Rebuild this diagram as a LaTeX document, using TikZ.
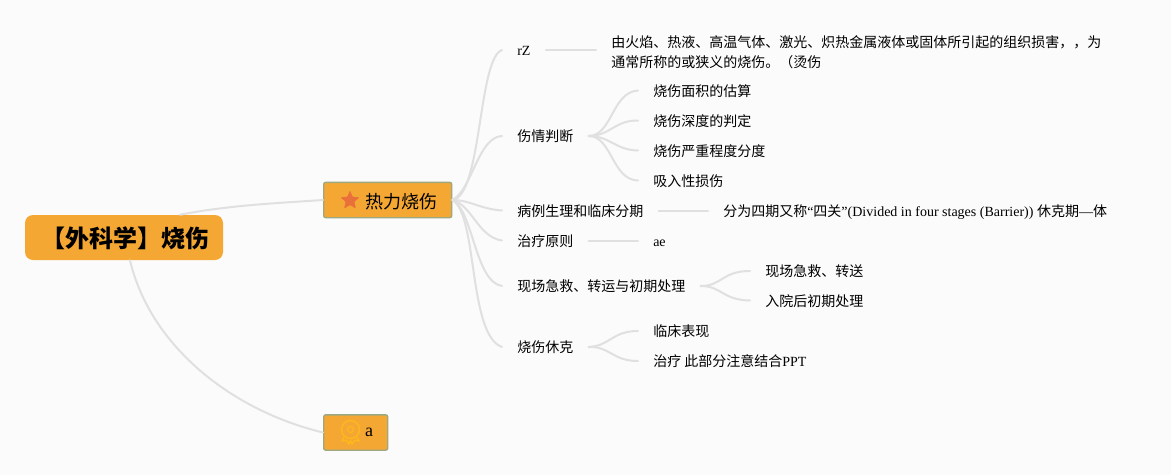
\documentclass[tikz,border=0pt]{standalone}
\usepackage{fontspec}
\setmainfont{Liberation Serif}
\newfontfamily\cjk{Noto Sans CJK SC}
\usetikzlibrary{shapes.geometric}
\definecolor{bgc}{HTML}{FBFBFB}
\definecolor{orangefill}{HTML}{F5A733}
\definecolor{boxedge}{HTML}{9BA880}
\definecolor{linkc}{HTML}{E0E0E0}
\definecolor{starc}{HTML}{E9703A}
\definecolor{medalc}{HTML}{FFB81C}
\newcommand{\zh}[1]{{\cjk #1}}
\tikzset{
  x=0.75pt,y=-0.75pt,
  link/.style={draw=linkc,line width=1.5pt,line cap=round},
  rootbox/.style={fill=orangefill,rounded corners=6pt,minimum width=148.5pt,minimum height=33.75pt,inner sep=0pt,text height=15.5pt,text depth=1pt,font=\cjk\bfseries\fontsize{18pt}{20pt}\selectfont},
  topicbox/.style={fill=orangefill,draw=boxedge,line width=1pt,rounded corners=1.5pt,anchor=west,inner xsep=10.9pt,inner ysep=0pt,minimum height=26.5pt,font=\fontsize{13.5pt}{16pt}\selectfont},
  itembox/.style={anchor=west,inner xsep=11.25pt,inner ysep=0pt,text height=11pt,text depth=2.5pt,font=\fontsize{10.5pt}{14.5pt}\selectfont},
  longbox/.style={anchor=west,inner xsep=11.25pt,inner ysep=0pt,align=left,font=\fontsize{10.5pt}{15pt}\selectfont},
}
\begin{document}
\begin{tikzpicture}
\path[use as bounding box,fill=bgc] (0,0) rectangle (1171,475);

\node[rootbox] (root) at (124,237.5) {\hspace*{2pt}【外科学】烧伤};
\node[topicbox,text height=14pt,text depth=1pt] (t1) at (323,200) {\hspace*{20.25pt}\zh{热力烧伤}};
\node[topicbox] (t2) at (323,432.5) {\hspace*{20.25pt}a};
\node[star,star points=5,star point ratio=2.2,fill=starc,inner sep=0pt,minimum size=15pt,rounded corners=0.6pt] (staricon) at (350,200.5) {};

% medal icon
\node[circle,draw=medalc,line width=1pt,minimum size=13.5pt,inner sep=0pt] (medal) at (350.5,429.5) {};
\node[circle,draw=medalc,line width=0.8pt,minimum size=4.5pt,inner sep=0pt] (medalcore) at (350.5,429.5) {};
\draw[medalc,line width=1pt,line join=round] (344,437) -- (342,441) -- (346,440) -- (349,444) -- (350.5,440) -- (352,444) -- (355,440) -- (359,441) -- (357,437);

\node[itembox] (a1) at (502,50) {rZ};
\node[itembox] (a2) at (502,136) {\zh{伤情判断}};
\node[itembox] (a3) at (502,210.5) {\zh{病例生理和临床分期}};
\node[itembox] (a4) at (502,240.5) {\zh{治疗原则}};
\node[itembox] (a5) at (502,286) {\zh{现场急救、转运与初期处理}};
\node[itembox] (a6) at (502,347) {\zh{烧伤休克}};

\node[longbox] (b1) at (596,52) {\zh{由火焰、热液、高温气体、激光、炽热金属液体或固体所引起的组织损害，，为}\\\zh{通常所称的或狭义的烧伤。（烫伤}};
\node[itembox] (b21) at (638,90.5) {\zh{烧伤面积的估算}};
\node[itembox] (b22) at (638,120.5) {\zh{烧伤深度的判定}};
\node[itembox] (b23) at (638,150.5) {\zh{烧伤严重程度分度}};
\node[itembox] (b24) at (638,180.5) {\zh{吸入性损伤}};
\node[itembox] (b3) at (708,210.5) {\zh{分为四期又称}“\zh{四关}”(Divided in four stages (Barrier)) \zh{休克期}—\zh{体}};
\node[itembox] (b4) at (638,240.5) {ae};
\node[itembox] (b51) at (750,271) {\zh{现场急救、转送}};
\node[itembox] (b52) at (750,300.5) {\zh{入院后初期处理}};
\node[itembox] (b61) at (638,331) {\zh{临床表现}};
\node[itembox] (b62) at (638,361) {\zh{治疗 此部分注意结合}PPT};

% root links
\draw[link] ([xshift=42pt]root.north) .. controls (230,205) and (280,203) .. (t1.west);
\draw[link] ([xshift=4.5pt]root.south) .. controls (150,345) and (230,410) .. (t2.west);

% topic links
\draw[link] (t1.east) .. controls (482,196) and (478,58) .. (a1.west);
\draw[link] (t1.east) .. controls (472,190) and (478,137) .. (a2.west);
\draw[link] (t1.east) .. controls (470,200) and (480,209) .. (a3.west);
\draw[link] (t1.east) .. controls (472,205) and (478,237) .. (a4.west);
\draw[link] (t1.east) .. controls (473,210) and (475,282) .. (a5.west);
\draw[link] (t1.east) .. controls (478,215) and (468,335) .. (a6.west);

% item links
\draw[link] (a1.east) -- (b1.west |- a1.east);
\draw[link] (a2.east) .. controls (612,136) and (612,92) .. (b21.west);
\draw[link] (a2.east) .. controls (610,136) and (615,120) .. (b22.west);
\draw[link] (a2.east) .. controls (610,136) and (615,150) .. (b23.west);
\draw[link] (a2.east) .. controls (612,136) and (612,180) .. (b24.west);
\draw[link] (a3.east) -- (b3.west);
\draw[link] (a4.east) -- (b4.west);
\draw[link] (a5.east) .. controls (722,286) and (722,271) .. (b51.west);
\draw[link] (a5.east) .. controls (722,286) and (722,300) .. (b52.west);
\draw[link] (a6.east) .. controls (610,346) and (612,331) .. (b61.west);
\draw[link] (a6.east) .. controls (610,346) and (612,361) .. (b62.west);
\end{tikzpicture}
\end{document}
